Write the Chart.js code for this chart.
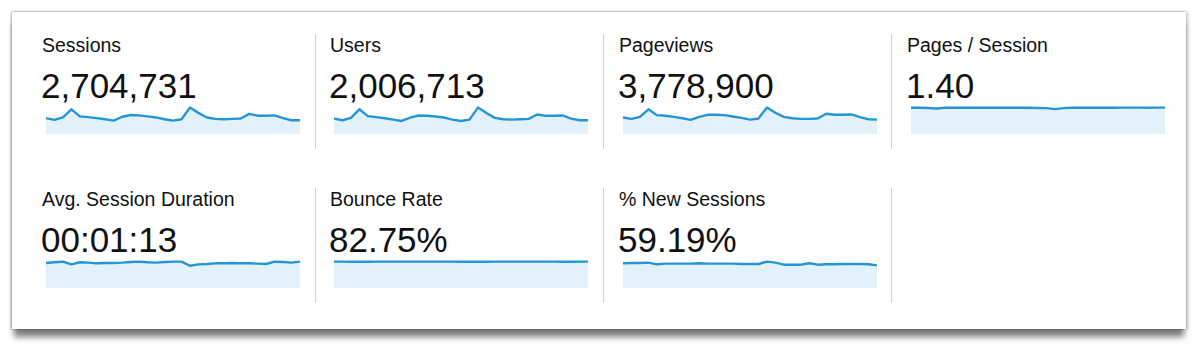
<!DOCTYPE html>
<html lang="en">
<head>
    <meta charset="UTF-8">
    <title>Audience Overview</title>
    <script src="https://cdn.jsdelivr.net/npm/chart.js"></script>
    <style>
        body { margin: 0; width: 1200px; height: 360px; background: #fff; font-family: "Liberation Sans", Arial, Helvetica, sans-serif; color: #111; overflow: hidden; }
        #card { position: absolute; left: 12px; top: 12px; width: 1174px; height: 317px; background: #fff;
            box-shadow: 0 -1px 2px rgba(0,0,0,0.08), -1px 0 2px rgba(0,0,0,0.3), 2px 0 3px rgba(0,0,0,0.2), 0 10px 6px -2px rgba(0,0,0,0.5); }
        .label { position: absolute; font-size: 19.5px; line-height: 1; white-space: nowrap; }
        .value { position: absolute; font-size: 35px; line-height: 1; white-space: nowrap; }
        .spark { position: absolute; width: 256px; height: 30px; }
        .sep { position: absolute; width: 1px; height: 115px; background: #cfcfcf; }
    </style>
</head>
<body>
<div id="card"></div>
<div id="tiles"></div>

<script>
    // daily points over the period
    const days = ['1','2','3','4','5','6','7','8','9','10','11','12','13','14','15','16',
                  '17','18','19','20','21','22','23','24','25','26','27','28','29','30','31'];

    const metricNames = ['Sessions', 'Users', 'Pageviews', 'Pages / Session',
                         'Avg. Session Duration', 'Bounce Rate', '% New Sessions'];
    const metricTotals = ['2,704,731', '2,006,713', '3,778,900', '1.40',
                          '00:01:13', '82.75%', '59.19%'];

    const sessions = [81000, 72000, 84600, 126000, 90000, 86400, 81000, 75600, 68400, 88200, 97200,
                      95400, 90000, 84600, 75600, 68400, 75600, 135000, 108000, 84600, 77400, 75600,
                      77400, 79200, 102600, 93600, 93600, 95400, 81000, 70200, 70200];
    const users = [59800, 53200, 62500, 95800, 69200, 65200, 61200, 55900, 50500, 63800, 71800,
                   70500, 67800, 63800, 55900, 50500, 55900, 102400, 81100, 62500, 57200, 55900,
                   57200, 58500, 75800, 70500, 70500, 71800, 59800, 53200, 53200];
    const pageviews = [112800, 103400, 117500, 169200, 129300, 124600, 117500, 108100, 96400, 117500, 131600,
                       131600, 129300, 119900, 110500, 98700, 105800, 181000, 145700, 117500, 108100, 103400,
                       103400, 105800, 138700, 131600, 131600, 134000, 115200, 101100, 98700];
    const pagesPerSession = [1.40, 1.40, 1.39, 1.36, 1.40, 1.40, 1.40, 1.40, 1.40, 1.40, 1.40,
                             1.40, 1.40, 1.40, 1.40, 1.39, 1.38, 1.33, 1.38, 1.40, 1.40, 1.40,
                             1.40, 1.40, 1.40, 1.41, 1.41, 1.41, 1.40, 1.41, 1.41];
    const avgDuration = [72, 74, 76, 68, 74, 73, 71, 72, 72, 73, 75,
                         76, 74, 73, 75, 76, 76, 64, 68, 69, 71, 71,
                         72, 71, 71, 70, 69, 76, 75, 73, 76];
    const bounceRate = [82.8, 82.7, 82.6, 82.4, 82.6, 82.8, 82.9, 82.8, 82.8, 82.7, 82.8,
                        82.8, 82.7, 82.7, 82.8, 82.6, 82.5, 82.4, 82.6, 82.8, 82.9, 82.9,
                        82.8, 82.7, 82.7, 82.8, 82.7, 82.5, 82.6, 82.8, 82.8];
    const newSessions = [59.8, 60.6, 60.6, 61.4, 57.3, 58.9, 58.9, 58.9, 58.9, 59.8, 58.9,
                         58.9, 58.9, 58.9, 58.1, 58.1, 58.1, 63.9, 61.4, 56.4, 56.4, 56.4,
                         59.8, 56.4, 57.3, 57.3, 58.1, 58.1, 58.1, 57.3, 54.8];

    const series = [sessions, users, pageviews, pagesPerSession, avgDuration, bounceRate, newSessions];

    const colX = [42, 330, 619, 907];
    const rowY = [0, 154];
    const tiles = document.getElementById('tiles');

    metricNames.forEach((name, i) => {
        const x = colX[i % 4];
        const dy = rowY[Math.floor(i / 4)];

        const label = document.createElement('div');
        label.className = 'label';
        label.style.left = x + 'px';
        label.style.top = (35.5 + dy) + 'px';
        label.textContent = name;
        tiles.appendChild(label);

        const value = document.createElement('div');
        value.className = 'value';
        value.style.left = (x - 1) + 'px';
        value.style.top = (67.5 + dy) + 'px';
        value.textContent = metricTotals[i];
        tiles.appendChild(value);

        const box = document.createElement('div');
        box.className = 'spark';
        box.style.left = (x + 3) + 'px';
        box.style.top = (104 + dy) + 'px';
        const canvas = document.createElement('canvas');
        box.appendChild(canvas);
        tiles.appendChild(box);

        const data = series[i];
        new Chart(canvas.getContext('2d'), {
            type: 'line',
            data: {
                labels: days,
                datasets: [{
                    data: data,
                    borderColor: '#2496d3',
                    borderWidth: 2.4,
                    borderJoinStyle: 'round',
                    backgroundColor: '#e3f1fb',
                    fill: 'origin',
                    tension: 0,
                    pointRadius: 0,
                    clip: 4
                }]
            },
            options: {
                responsive: true,
                maintainAspectRatio: false,
                animation: false,
                layout: { padding: { top: 2, left: 1, right: 1, bottom: 0 } },
                plugins: { legend: { display: false }, tooltip: { enabled: false } },
                scales: {
                    x: { display: false },
                    y: { display: false, min: 0, max: Math.max(...data) * 1.06 }
                }
            }
        });
    });

    // column separators
    [315, 603, 891].forEach(x => {
        rowY.forEach(dy => {
            const s = document.createElement('div');
            s.className = 'sep';
            s.style.left = x + 'px';
            s.style.top = (34 + dy) + 'px';
            tiles.appendChild(s);
        });
    });
</script>

</body>
</html>
